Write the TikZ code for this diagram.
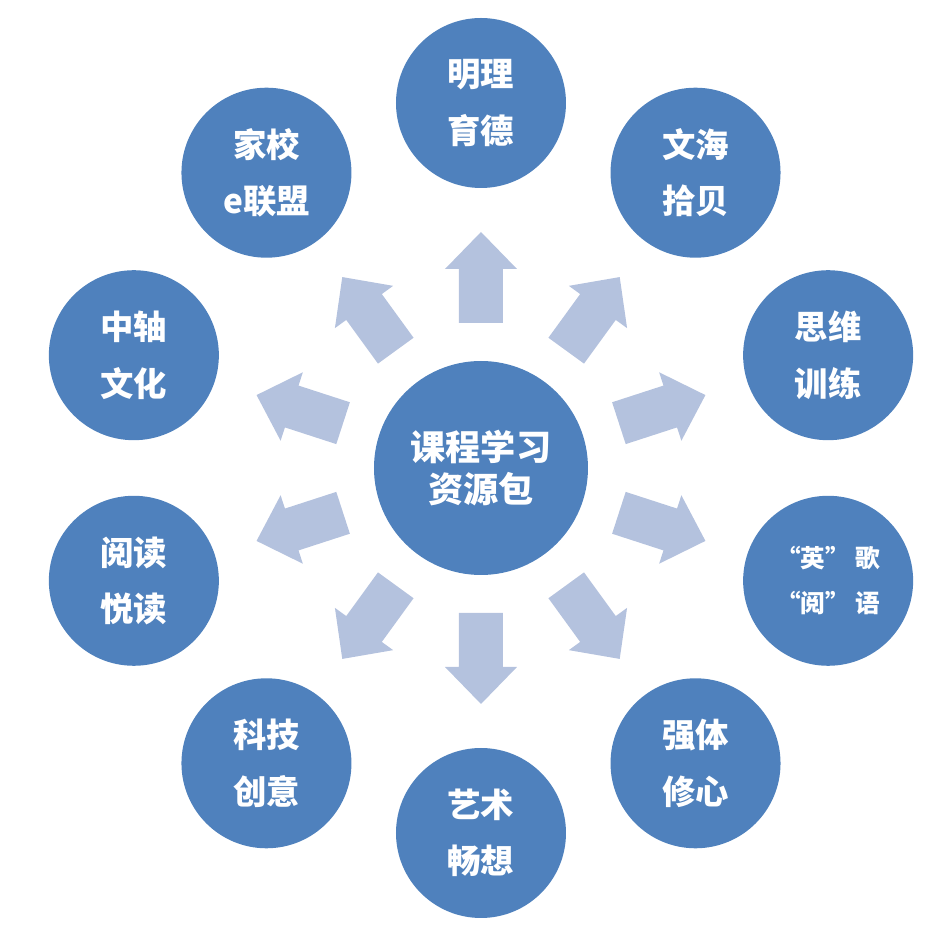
\documentclass[tikz,border=0pt]{standalone}
\usepackage{fontspec}
\usepackage{tikz}
\newfontfamily\cjk{Noto Sans CJK SC}
\definecolor{kreisblau}{RGB}{79,129,189}
\definecolor{pfeilblau}{RGB}{180,194,222}
\tikzset{
  kreis/.style={circle, fill=kreisblau, text=white, minimum size=3.4cm, inner sep=0pt, align=center, font=\cjk\bfseries\fontsize{19}{32}\selectfont},
  mitte/.style={kreis, minimum size=4.28cm, font=\cjk\bfseries\fontsize{20}{23.5}\selectfont},
  pfeil/.style={fill=pfeilblau}
}
\begin{document}
\begin{tikzpicture}
\useasboundingbox (-9.62,-9.52) rectangle (9.36,9.36);
% mitte
\node[mitte] (M) at (0,0) {课程学习\\资源包};

% pfeile nach aussen
\foreach \w in {90,54,18,-18,-54,-90,-126,-162,162,126}
  \fill[pfeil, rotate=\w] (2.9,-0.44) -- (3.98,-0.44) -- (3.98,-0.72) -- (4.72,0) -- (3.98,0.72) -- (3.98,0.44) -- (2.9,0.44) -- cycle;

% kreise aussen
\node[kreis] (A) at (90:7.3) {明理\\育德};
\node[kreis] (B) at (54:7.3) {文海\\拾贝};
\node[kreis] (C) at (18:7.3) {思维\\训练};
\node[kreis, font=\cjk\bfseries\fontsize{14}{25.6}\selectfont] (D) at (-18:7.3) {“英”\ 歌\\“阅”\ 语};
\node[kreis] (E) at (-54:7.3) {强体\\修心};
\node[kreis] (F) at (-90:7.3) {艺术\\畅想};
\node[kreis] (G) at (-126:7.3) {科技\\创意};
\node[kreis] (H) at (-162:7.3) {阅读\\悦读};
\node[kreis] (I) at (162:7.3) {中轴\\文化};
\node[kreis] (J) at (126:7.3) {家校\\e联盟};

\end{tikzpicture}
\end{document}
